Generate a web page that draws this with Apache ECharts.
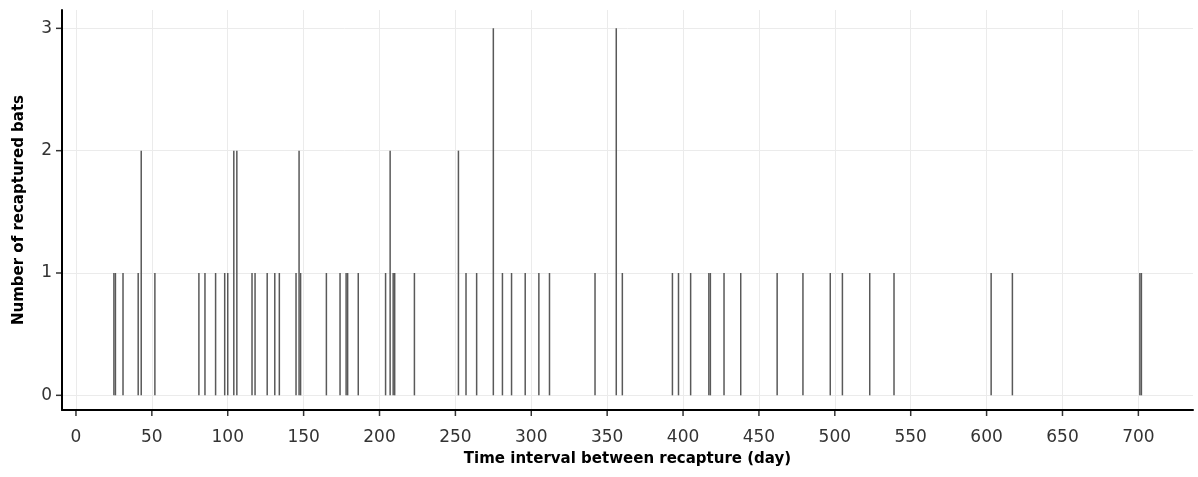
<!DOCTYPE html>
<html>
<head>
<meta charset="utf-8">
<script src="https://cdn.jsdelivr.net/npm/echarts@6/dist/echarts.min.js"></script>
<style>
html,body{margin:0;padding:0;background:#fff;}
#chart{width:1198px;height:477px;}
</style>
</head>
<body>
<div id="chart"></div>
<script>
// Time interval (days) between recaptures and number of bats per interval
const days   = [25, 26, 31, 41, 43, 52, 81, 85, 92, 98, 100, 104, 106, 116, 118, 126, 131, 134, 145, 147, 148,
                165, 174, 178, 179, 186, 204, 207, 209, 210, 223, 252, 257, 264, 275, 281, 287, 296, 305, 312,
                342, 356, 360, 393, 397, 405, 417, 418, 427, 438, 462, 479, 497, 505, 523, 539, 603, 617, 701, 702];
const counts = [1, 1, 1, 1, 2, 1, 1, 1, 1, 1, 1, 2, 2, 1, 1, 1, 1, 1, 1, 2, 1,
                1, 1, 1, 1, 1, 1, 2, 1, 1, 1, 2, 1, 1, 3, 1, 1, 1, 1, 1,
                1, 3, 1, 1, 1, 1, 1, 1, 1, 1, 1, 1, 1, 1, 1, 1, 1, 1, 1, 1];
const xTicks = [0, 50, 100, 150, 200, 250, 300, 350, 400, 450, 500, 550, 600, 650, 700];
const yTicks = [0, 1, 2, 3];
const xTitle = 'Time interval between recapture (day)';
const yTitle = 'Number of recaptured bats';

// panel extents (with ggplot-like expansion)
const xMin = -9.2, xMax = 736, yMin = -0.12, yMax = 3.15;

const chart = echarts.init(document.getElementById('chart'), null, {renderer: 'canvas'});
const labelFont = {fontFamily: 'DejaVu Sans', fontSize: 17, color: '#333'};
const titleFont = {fontFamily: 'DejaVu Sans', fontSize: 15, fontWeight: 'bold', color: '#000'};
const grey = {color: '#ebebeb', width: 1};
chart.setOption({
  animation: false,
  grid: {left: 62, right: 5, top: 10, bottom: 67},
  xAxis: {
    type: 'value', min: xMin, max: xMax, minInterval: 50, maxInterval: 50,
    name: xTitle, nameLocation: 'middle', nameGap: 42, nameTextStyle: titleFont,
    axisLine: {show: true, onZero: false, lineStyle: {color: '#000', width: 2}},
    axisTick: {show: false},
    axisLabel: Object.assign({customValues: xTicks, margin: 19}, labelFont),
    splitLine: {show: true, showMinLine: false, showMaxLine: false, lineStyle: grey}
  },
  yAxis: {
    type: 'value', min: yMin, max: yMax, minInterval: 1, maxInterval: 1,
    name: yTitle, nameLocation: 'middle', nameGap: 35, nameTextStyle: titleFont,
    axisLine: {show: true, onZero: false, lineStyle: {color: '#000', width: 2}},
    axisTick: {show: false},
    axisLabel: Object.assign({customValues: yTicks, margin: 10}, labelFont),
    splitLine: {show: true, showMinLine: false, showMaxLine: false, lineStyle: grey}
  },
  series: [{
    type: 'bar',
    data: days.map((d, i) => [d, counts[i]]),
    barWidth: 1.5,
    itemStyle: {color: '#595959'},
    silent: true
  }, {
    // x-axis tick marks at the labelled values
    type: 'scatter', clip: false, silent: true,
    data: xTicks.map(v => [v, yMin]),
    symbol: 'rect', symbolSize: [1.5, 6], symbolOffset: [0, 3],
    itemStyle: {color: '#000'}
  }, {
    // y-axis tick marks at the labelled values
    type: 'scatter', clip: false, silent: true,
    data: yTicks.map(v => [xMin, v]),
    symbol: 'rect', symbolSize: [6, 1.5], symbolOffset: [-3, 0],
    itemStyle: {color: '#000'}
  }]
});
</script>
</body>
</html>
